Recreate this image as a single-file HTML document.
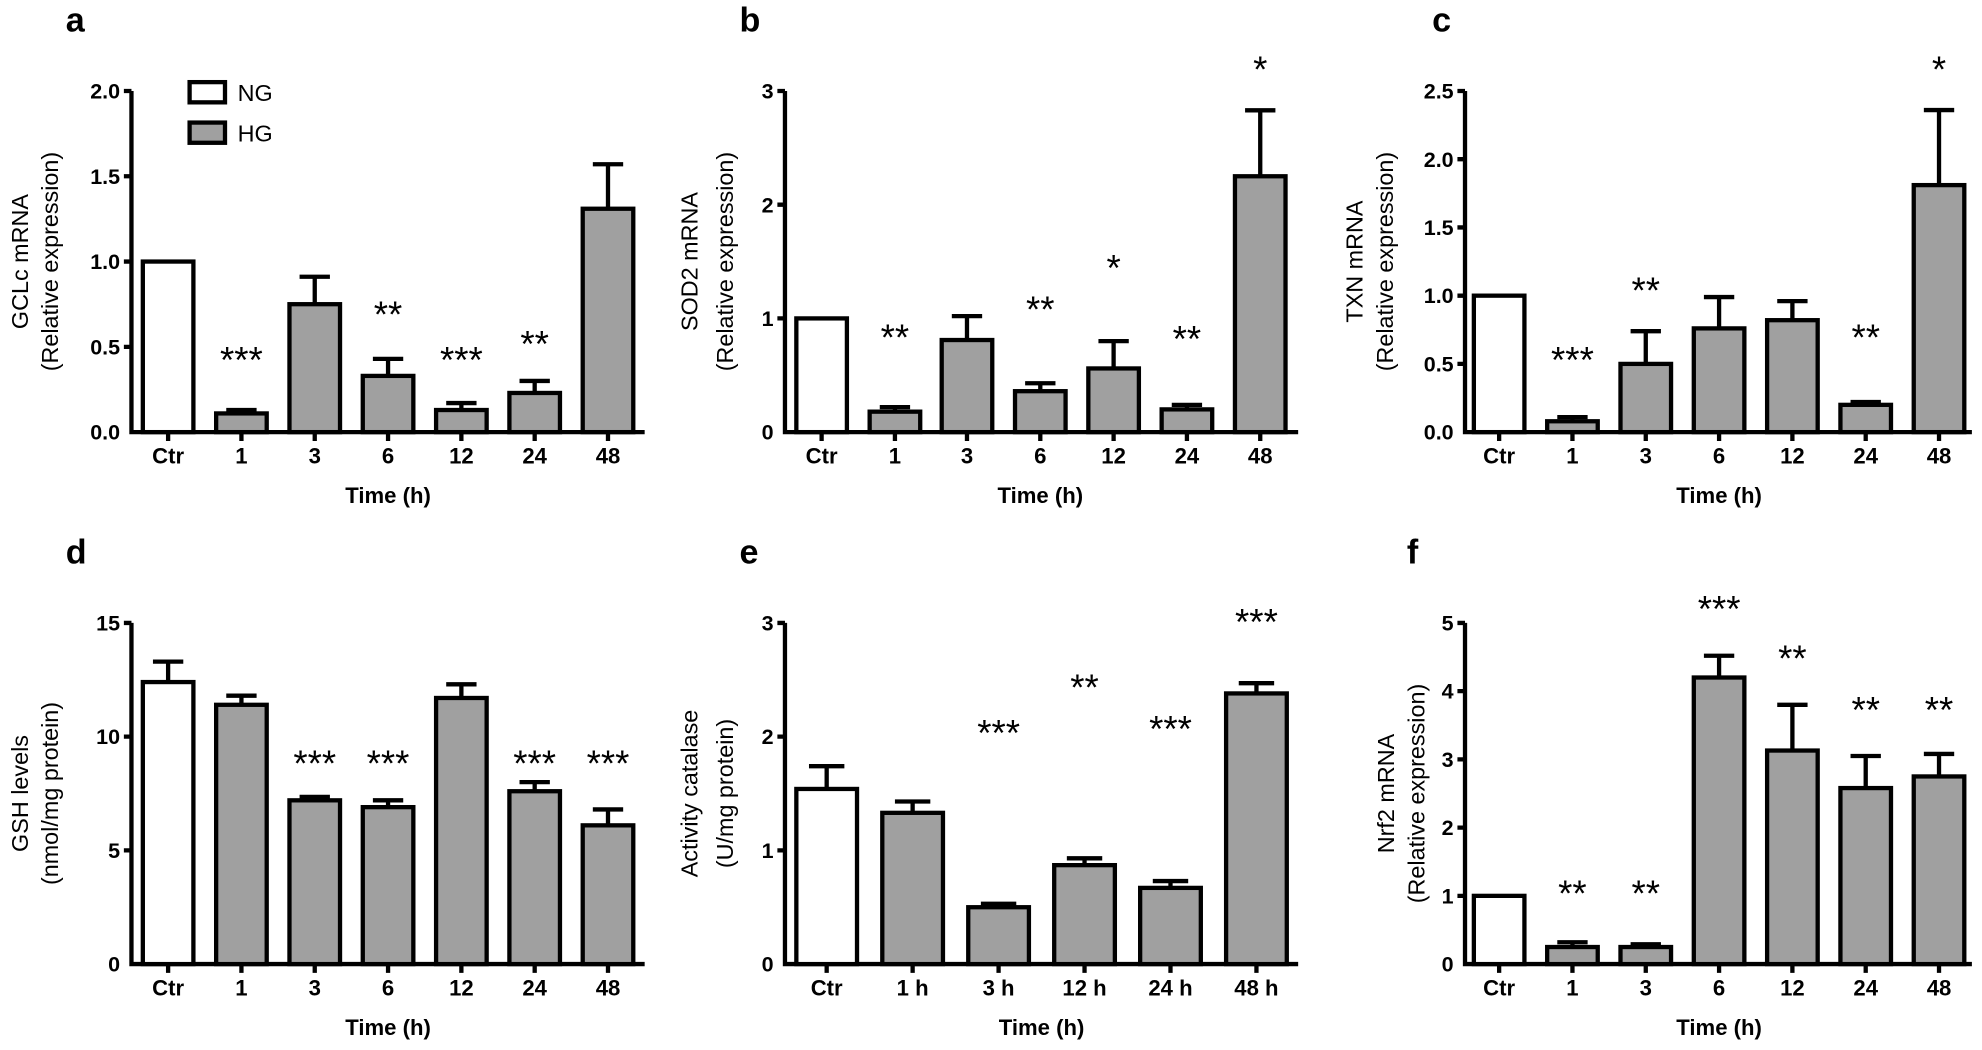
<!DOCTYPE html>
<html><head><meta charset="utf-8"><style>
html,body{margin:0;padding:0;background:#fff}
svg{display:block}
text{font-family:"Liberation Sans",Arial,sans-serif;fill:#000}
.t{font-size:17px;font-weight:bold}
.l{font-size:18.5px}
.x{font-size:17.5px;font-weight:bold;text-anchor:middle}
.s{font-size:29px;text-anchor:middle}
.p{font-size:27px;font-weight:bold}
rect{stroke:#000;stroke-width:3.4}
.g{fill:#a0a0a0}.w{fill:#fff}
line,path{stroke:#000;stroke-width:3.4;fill:none}
</style></head><body>
<svg width="1982" height="1050" viewBox="0 0 1568 831" preserveAspectRatio="none" xmlns="http://www.w3.org/2000/svg">
<!-- Panel a -->
<text class="p" x="52" y="25">a</text>
<g text-anchor="middle" class="l"><text transform="translate(22,207) rotate(-90)">GCLc mRNA</text><text transform="translate(46,207) rotate(-90)">(Relative expression)</text></g>
<g text-anchor="end" class="t"><text x="95" y="348">0.0</text><text x="95" y="280.5">0.5</text><text x="95" y="213">1.0</text><text x="95" y="145.5">1.5</text><text x="95" y="78">2.0</text></g>
<path d="M98 72H104M98 139.5H104M98 207H104M98 274.5H104M104 72V342H510M133 342v7M191 342v7M249 342v7M307 342v7M365 342v7M423 342v7M481 342v7"/>
<rect class="w" x="150" y="65" width="28" height="16"/><text class="l" x="188" y="80">NG</text>
<rect class="g" x="150" y="97" width="28" height="16"/><text class="l" x="188" y="112">HG</text>
<rect class="w" x="113" y="207" width="40" height="135"/>
<path d="M191 327v-3M179 324.5h24M249 241v-22M237 219h24M307 297v-13M295 284h24M365 324v-5M353 319h24M423 311v-9.5M411 301.5h24M481 165v-35M469 130h24"/>
<rect class="g" x="171" y="327.2" width="40" height="14.8"/><rect class="g" x="229" y="240.75" width="40" height="101.25"/><rect class="g" x="287" y="297.5" width="40" height="44.5"/><rect class="g" x="345" y="324.5" width="40" height="17.5"/><rect class="g" x="403" y="311" width="40" height="31"/><rect class="g" x="461" y="165.2" width="40" height="176.8"/>
<g class="s"><text x="191" y="295">***</text><text x="307" y="259">**</text><text x="365" y="295">***</text><text x="423" y="282">**</text></g>
<g class="x"><text x="133" y="367">Ctr</text><text x="191" y="367">1</text><text x="249" y="367">3</text><text x="307" y="367">6</text><text x="365" y="367">12</text><text x="423" y="367">24</text><text x="481" y="367">48</text><text x="307" y="398">Time (h)</text></g>

<!-- Panel b -->
<text class="p" x="585" y="25">b</text>
<g transform="translate(165,0)">
<g text-anchor="middle" class="l"><text transform="translate(387,207) rotate(-90)">SOD2 mRNA</text><text transform="translate(415,207) rotate(-90)">(Relative expression)</text></g>
<g text-anchor="end" class="t"><text x="447" y="348">0</text><text x="447" y="258">1</text><text x="447" y="168">2</text><text x="447" y="78">3</text></g>
<path d="M450 72H456M450 162H456M450 252H456M456 72V342H862M485 342v7M543 342v7M600 342v7M658 342v7M716 342v7M774 342v7M832 342v7"/>
<rect class="w" x="465" y="252" width="40" height="90"/>
<path d="M543 326v-4M531 322.2h24M600 269v-19M588 250.2h24M658 309v-6M646 303.3h24M716 291v-21M704 270h24M774 324v-3.6M762 320.4h24M832 139v-52M820 87.3h24"/>
<rect class="g" x="523" y="325.8" width="40" height="16.2"/><rect class="g" x="580" y="269.1" width="40" height="72.9"/><rect class="g" x="638" y="309.6" width="40" height="32.4"/><rect class="g" x="696" y="291.6" width="40" height="50.4"/><rect class="g" x="754" y="324" width="40" height="18"/><rect class="g" x="812" y="139.5" width="40" height="202.5"/>
<g class="s"><text x="543" y="277">**</text><text x="658" y="255">**</text><text x="716" y="222">*</text><text x="774" y="278">**</text><text x="832" y="65">*</text></g>
<g class="x"><text x="485" y="367">Ctr</text><text x="543" y="367">1</text><text x="600" y="367">3</text><text x="658" y="367">6</text><text x="716" y="367">12</text><text x="774" y="367">24</text><text x="832" y="367">48</text><text x="658" y="398">Time (h)</text></g>
</g>

<!-- Panel c -->
<text class="p" x="1133" y="25">c</text>
<g text-anchor="middle" class="l"><text transform="translate(1078,207) rotate(-90)">TXN mRNA</text><text transform="translate(1102,207) rotate(-90)">(Relative expression)</text></g>
<g text-anchor="end" class="t"><text x="1150" y="348">0.0</text><text x="1150" y="294">0.5</text><text x="1150" y="240">1.0</text><text x="1150" y="186">1.5</text><text x="1150" y="132">2.0</text><text x="1150" y="78">2.5</text></g>
<path d="M1153 72H1159M1153 126H1159M1153 180H1159M1153 234H1159M1153 288H1159M1159 72V342H1560M1186 342v7M1244 342v7M1302 342v7M1360 342v7M1418 342v7M1476 342v7M1534 342v7"/>
<rect class="w" x="1166" y="234" width="40" height="108"/>
<path d="M1244 333v-3M1232 330.1h24M1302 288v-26M1290 262.1h24M1360 260v-25M1348 235.1h24M1418 253v-15M1406 238.3h24M1476 320v-2M1464 318.2h24M1534 146v-59M1522 87.1h24"/>
<rect class="g" x="1224" y="333.4" width="40" height="8.6"/><rect class="g" x="1282" y="288" width="40" height="54"/><rect class="g" x="1340" y="259.9" width="40" height="82.1"/><rect class="g" x="1398" y="253.4" width="40" height="88.6"/><rect class="g" x="1456" y="320.4" width="40" height="21.6"/><rect class="g" x="1514" y="146.5" width="40" height="195.5"/>
<g class="s"><text x="1244" y="295">***</text><text x="1302" y="240">**</text><text x="1476" y="277">**</text><text x="1534" y="65">*</text></g>
<g class="x"><text x="1186" y="367">Ctr</text><text x="1244" y="367">1</text><text x="1302" y="367">3</text><text x="1360" y="367">6</text><text x="1418" y="367">12</text><text x="1476" y="367">24</text><text x="1534" y="367">48</text><text x="1360" y="398">Time (h)</text></g>

<!-- Panel d -->
<text class="p" x="52" y="446">d</text>
<g text-anchor="middle" class="l"><text transform="translate(22,628) rotate(-90)">GSH levels</text><text transform="translate(46,628) rotate(-90)">(nmol/mg protein)</text></g>
<g text-anchor="end" class="t"><text x="95" y="769">0</text><text x="95" y="679">5</text><text x="95" y="589">10</text><text x="95" y="499">15</text></g>
<path d="M98 493H104M98 583H104M98 673H104M104 493V763H510M133 763v7M191 763v7M249 763v7M307 763v7M365 763v7M423 763v7M481 763v7"/>
<path d="M133 540v-16M121 523.6h24M191 558v-7M179 550.6h24M249 633v-2.5M237 630.7h24M307 639v-5.5M295 633.4h24M365 552v-10.5M353 541.6h24M423 626v-7M411 619h24M481 653v-12.5M469 640.6h24"/>
<rect class="w" x="113" y="539.8" width="40" height="223.2"/>
<rect class="g" x="171" y="557.8" width="40" height="205.2"/><rect class="g" x="229" y="633.4" width="40" height="129.6"/><rect class="g" x="287" y="638.8" width="40" height="124.2"/><rect class="g" x="345" y="552.4" width="40" height="210.6"/><rect class="g" x="403" y="626.2" width="40" height="136.8"/><rect class="g" x="461" y="653.2" width="40" height="109.8"/>
<g class="s"><text x="249" y="614">***</text><text x="307" y="614">***</text><text x="423" y="614">***</text><text x="481" y="614">***</text></g>
<g class="x"><text x="133" y="788">Ctr</text><text x="191" y="788">1</text><text x="249" y="788">3</text><text x="307" y="788">6</text><text x="365" y="788">12</text><text x="423" y="788">24</text><text x="481" y="788">48</text><text x="307" y="819">Time (h)</text></g>

<!-- Panel e -->
<text class="p" x="585" y="446">e</text>
<g text-anchor="middle" class="l"><text transform="translate(552,628) rotate(-90)">Activity catalase</text><text transform="translate(580,628) rotate(-90)">(U/mg protein)</text></g>
<g text-anchor="end" class="t"><text x="612" y="769">0</text><text x="612" y="679">1</text><text x="612" y="589">2</text><text x="612" y="499">3</text></g>
<path d="M615 493H621M615 583H621M615 673H621M621 493V763H1027M654 763v7M722 763v7M790 763v7M858 763v7M926 763v7M994 763v7"/>
<path d="M654 624v-18M640 606.4h28M722 643v-9M708 634.3h28M790 718v-3M776 715.3h28M858 685v-6M844 679.3h28M926 703v-6M912 697.3h28M994 549v-8M980 540.7h28"/>
<rect class="w" x="630" y="624.4" width="48" height="138.6"/>
<rect class="g" x="698" y="643.3" width="48" height="119.7"/><rect class="g" x="766" y="718" width="48" height="45"/><rect class="g" x="834" y="684.7" width="48" height="78.3"/><rect class="g" x="902" y="702.7" width="48" height="60.3"/><rect class="g" x="970" y="548.8" width="48" height="214.2"/>
<g class="s"><text x="790" y="590">***</text><text x="858" y="554">**</text><text x="926" y="587">***</text><text x="994" y="502">***</text></g>
<g class="x"><text x="654" y="788">Ctr</text><text x="722" y="788">1 h</text><text x="790" y="788">3 h</text><text x="858" y="788">12 h</text><text x="926" y="788">24 h</text><text x="994" y="788">48 h</text><text x="824" y="819">Time (h)</text></g>

<!-- Panel f -->
<text class="p" x="1113" y="446">f</text>
<g text-anchor="middle" class="l"><text transform="translate(1103,628) rotate(-90)">Nrf2 mRNA</text><text transform="translate(1127,628) rotate(-90)">(Relative expression)</text></g>
<g text-anchor="end" class="t"><text x="1150" y="769">0</text><text x="1150" y="715">1</text><text x="1150" y="661">2</text><text x="1150" y="607">3</text><text x="1150" y="553">4</text><text x="1150" y="499">5</text></g>
<path d="M1153 493H1159M1153 547H1159M1153 601H1159M1153 655H1159M1153 709H1159M1159 493V763H1560M1186 763v7M1244 763v7M1302 763v7M1360 763v7M1418 763v7M1476 763v7M1534 763v7"/>
<path d="M1244 749v-3.5M1232 745.7h24M1302 749v-2M1290 747.3h24M1360 536v-17M1348 519h24M1418 594v-36M1406 557.8h24M1476 624v-25.5M1464 598.3h24M1534 614v-17.5M1522 596.7h24"/>
<rect class="w" x="1166" y="709" width="40" height="54"/>
<rect class="g" x="1224" y="749.5" width="40" height="13.5"/><rect class="g" x="1282" y="749.5" width="40" height="13.5"/><rect class="g" x="1340" y="536.2" width="40" height="226.8"/><rect class="g" x="1398" y="594" width="40" height="169"/><rect class="g" x="1456" y="623.7" width="40" height="139.3"/><rect class="g" x="1514" y="614.5" width="40" height="148.5"/>
<g class="s"><text x="1244" y="717">**</text><text x="1302" y="717">**</text><text x="1360" y="492">***</text><text x="1418" y="531">**</text><text x="1476" y="572">**</text><text x="1534" y="572">**</text></g>
<g class="x"><text x="1186" y="788">Ctr</text><text x="1244" y="788">1</text><text x="1302" y="788">3</text><text x="1360" y="788">6</text><text x="1418" y="788">12</text><text x="1476" y="788">24</text><text x="1534" y="788">48</text><text x="1360" y="819">Time (h)</text></g>
</svg>
</body></html>
